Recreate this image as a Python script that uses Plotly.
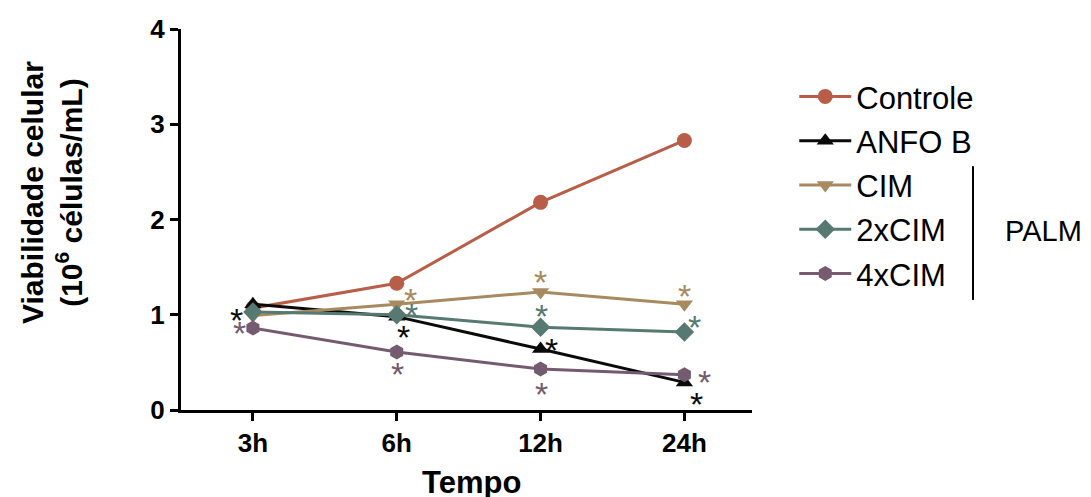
import plotly.graph_objects as go

times = ["3h", "6h", "12h", "24h"]
series_names = ["Controle", "ANFO B", "CIM", "2xCIM", "4xCIM"]
controle = [1.07, 1.33, 2.18, 2.83]
anfo_b = [1.11, 0.98, 0.64, 0.29]
cim = [0.99, 1.11, 1.24, 1.11]
cim2x = [1.03, 1.00, 0.87, 0.82]
cim4x = [0.86, 0.61, 0.43, 0.37]
values = [controle, anfo_b, cim, cim2x, cim4x]

colors = ["rgb(184,94,72)", "rgb(10,10,10)", "rgb(168,138,96)", "rgb(86,121,114)", "rgb(117,91,112)"]
symbols = ["circle", "triangle-up", "triangle-down", "diamond", "hexagon"]

# significance marks: (series index, time index, x offset px, y offset px)
stars = [
    (1, 0, -16, -12), (4, 0, -13, -1),
    (2, 1, 14, 8), (3, 1, 15, 4), (1, 1, 7, -16), (4, 1, 1, -18),
    (2, 2, 0, 14), (3, 2, 1, 15), (1, 2, 11, 3), (4, 2, 1, -21),
    (2, 3, 0, 12), (3, 3, 10, 9), (4, 3, 20, -3), (1, 3, 12, -18),
]

FONT = "Liberation Sans, Arial, sans-serif"
fig = go.Figure()
for i, (name, vals) in enumerate(zip(series_names, values)):
    fig.add_trace(go.Scatter(
        x=list(range(len(times))), y=vals, name=name, mode="lines+markers",
        line=dict(color=colors[i], width=3),
        marker=dict(symbol=symbols[i], size=15, color=colors[i]),
        legendgroup=name,
    ))

annotations = []
for s, t, dx, dy in stars:
    annotations.append(dict(
        x=t, y=values[s][t], xref="x", yref="y", text="*", showarrow=False,
        xshift=dx, yshift=dy - 4, xanchor="center", yanchor="middle",
        font=dict(family=FONT, size=34, color=colors[s]),
    ))
annotations.append(dict(
    x=1.44, y=0.47, xref="paper", yref="paper", text="PALM", showarrow=False,
    xanchor="left", yanchor="middle", font=dict(family=FONT, size=29, color="black"),
))
annotations.append(dict(
    x=-0.226, y=0.572, xref="paper", yref="paper", textangle=-90,
    text="<b>Viabilidade celular<br>(10<sup>6</sup> células/mL)</b>", showarrow=False,
    xanchor="center", yanchor="middle", font=dict(family=FONT, size=30, color="black"),
))
annotations.append(dict(
    x=0.508, y=-0.189, xref="paper", yref="paper",
    text="<b>Tempo</b>", showarrow=False,
    xanchor="center", yanchor="middle", font=dict(family=FONT, size=31, color="black"),
))

fig.update_layout(
    width=1091, height=497,
    margin=dict(l=181, r=339, t=29, b=87, autoexpand=False),
    paper_bgcolor="white", plot_bgcolor="white",
    font=dict(family=FONT, color="black"),
    showlegend=True,
    legend=dict(x=1.074, y=0.893, xanchor="left", yanchor="top",
                font=dict(family=FONT, size=31, color="black"),
                tracegroupgap=1, itemwidth=52, bgcolor="rgba(0,0,0,0)"),
    annotations=annotations,
    shapes=[dict(type="line", xref="paper", yref="paper", x0=1.387, x1=1.387,
                 y0=0.289, y1=0.64, line=dict(color="black", width=2))],
    xaxis=dict(
        tickmode="array", tickvals=list(range(len(times))), ticktext=times,
        range=[-0.5, 3.47], showline=True, linecolor="black", linewidth=3,
        ticks="outside", ticklen=8, tickwidth=2.5, tickcolor="black",
        showgrid=False, zeroline=False, automargin=False,
        tickfont=dict(family=FONT, size=26, color="black", weight="bold"),
    ),
    yaxis=dict(
        range=[0, 4], tickvals=[0, 1, 2, 3, 4], showline=True, linecolor="black", linewidth=3,
        ticks="outside", ticklen=8, tickwidth=2.5, tickcolor="black",
        showgrid=False, zeroline=False, automargin=False,
        tickfont=dict(family=FONT, size=26, color="black", weight="bold"),
    ),
)

fig.write_html("out.html")
